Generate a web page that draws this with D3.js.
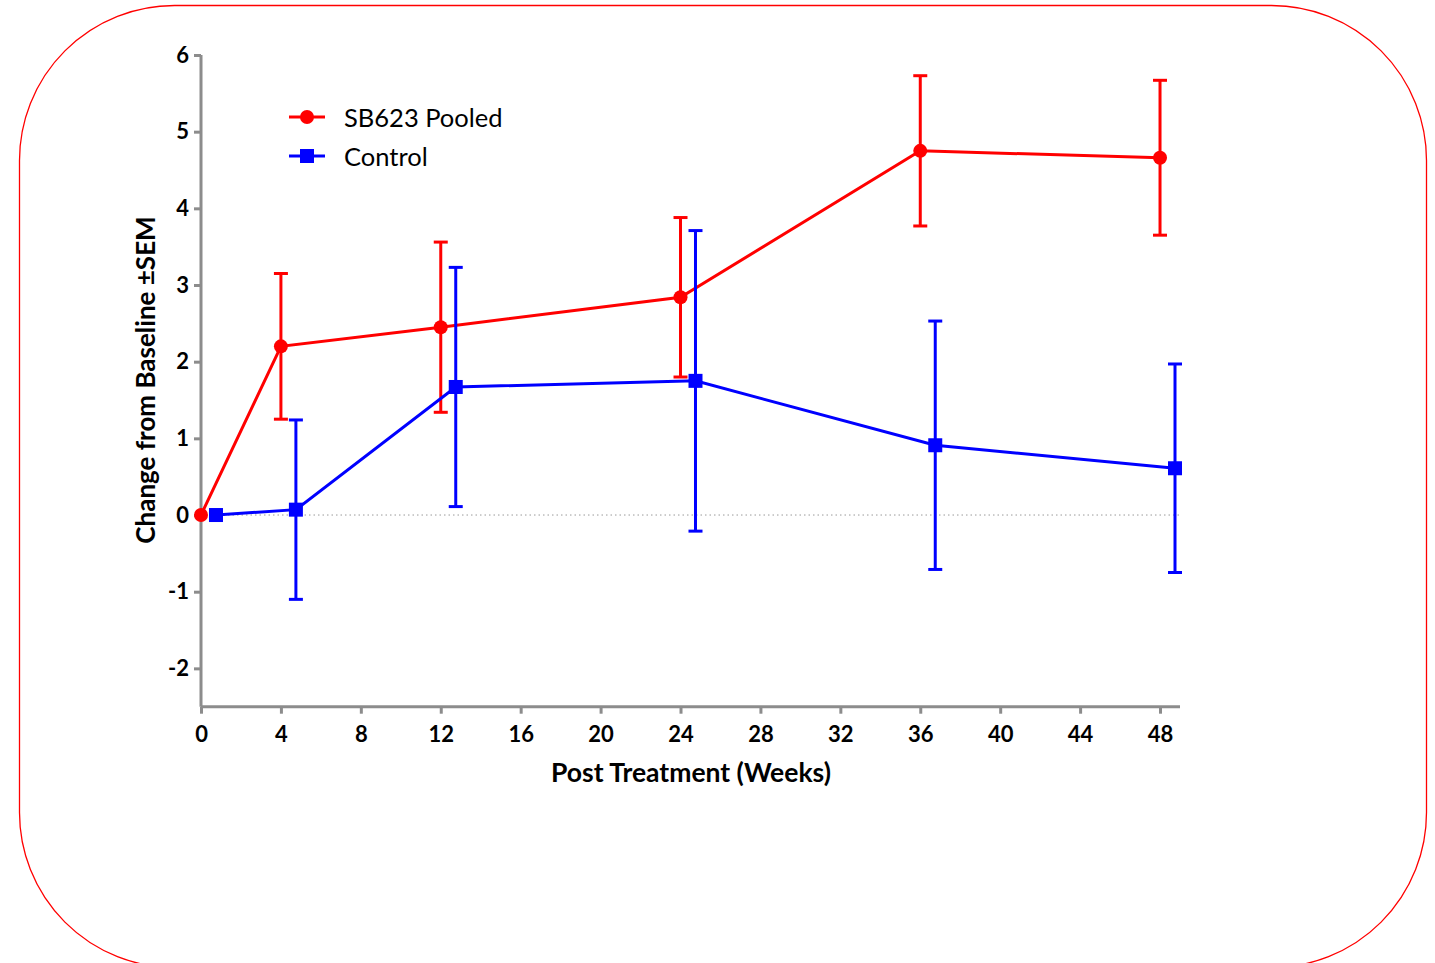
<!DOCTYPE html>
<html>
<head>
<meta charset="utf-8">
<script src="https://cdn.jsdelivr.net/npm/d3@7"></script>
<style>
  html, body { margin: 0; padding: 0; background: #fff; }
  svg { display: block; }
</style>
</head>
<body>
<svg id="chart" width="1435" height="963"></svg>
<script>
// ---- data ----
const weeks = [0, 4, 12, 24, 36, 48];
const sb623Mean = [0, 2.20, 2.45, 2.84, 4.75, 4.66];
const sb623Sem  = [0, 0.95, 1.11, 1.04, 0.98, 1.01];
const controlMean = [0, 0.07, 1.67, 1.75, 0.91, 0.61];
const controlSem  = [0, 1.17, 1.56, 1.96, 1.62, 1.36];
const xTicks = [0, 4, 8, 12, 16, 20, 24, 28, 32, 36, 40, 44, 48];
const yTicks = [-2, -1, 0, 1, 2, 3, 4, 5, 6];
const seriesNames = ["SB623 Pooled", "Control"];

const series = [
  { name: seriesNames[0], mean: sb623Mean, sem: sb623Sem, color: "#ff0000", shape: "circle", offset: 0 },
  { name: seriesNames[1], mean: controlMean, sem: controlSem, color: "#0000ff", shape: "square", offset: 0.75 }
];

const svg = d3.select("#chart");
const font = "Lato, 'Open Sans', sans-serif";

// rounded border
svg.append("rect")
  .attr("x", 19.5).attr("y", 5.5).attr("width", 1407).attr("height", 962)
  .attr("rx", 155).attr("ry", 155)
  .attr("fill", "none").attr("stroke", "#ff0000").attr("stroke-width", 1.3);

const x = d3.scaleLinear().domain([0, 49]).range([201, 1180]);
const y = d3.scaleLinear().domain([-2.5, 6]).range([706.7, 55]);

const axisColor = "#8c8c8c";

// zero dotted line
svg.append("line")
  .attr("x1", x(0)).attr("x2", x(49)).attr("y1", y(0)).attr("y2", y(0))
  .attr("stroke", "#999").attr("stroke-width", 1).attr("stroke-dasharray", "1.5,3");

const fmt = d => String(d).replace("\u2212", "-");

// axes
const xAxis = svg.append("g").attr("transform", `translate(0,${y(-2.5)})`)
  .call(d3.axisBottom(x).tickValues(xTicks).tickSize(7).tickPadding(13).tickFormat(fmt));
const yAxis = svg.append("g").attr("transform", `translate(${x(0)},0)`)
  .call(d3.axisLeft(y).tickValues(yTicks).tickSize(7).tickPadding(5).tickFormat(fmt));
[xAxis, yAxis].forEach(g => {
  g.select(".domain").attr("stroke", axisColor).attr("stroke-width", 3);
  g.selectAll(".tick line").attr("stroke", axisColor).attr("stroke-width", 3);
  g.selectAll(".tick text").attr("fill", "#000").style("font-family", font)
    .style("font-size", "22px").style("font-weight", "bold");
});
xAxis.select(".domain").attr("d", `M${x(0)},0H${x(49)}`);
yAxis.select(".domain").attr("d", `M0,${y(6)}V${y(-2.5)}`);

// axis titles
svg.append("text")
  .attr("x", 691).attr("y", 782)
  .attr("text-anchor", "middle")
  .style("font-family", font).style("font-size", "26.5px").style("font-weight", "bold")
  .text("Post Treatment (Weeks)");
svg.append("text")
  .attr("transform", "translate(155,380) rotate(-90)")
  .attr("text-anchor", "middle")
  .style("font-family", font).style("font-size", "26px").style("font-weight", "bold")
  .text("Change from Baseline \u00B1SEM");

// series
series.forEach(s => {
  const pts = weeks.map((w, i) => ({ x: w + s.offset, m: s.mean[i], e: s.sem[i] }));
  const g = svg.append("g");
  // error bars
  pts.filter(p => p.e > 0).forEach(p => {
    g.append("line").attr("x1", x(p.x)).attr("x2", x(p.x))
      .attr("y1", y(p.m - p.e)).attr("y2", y(p.m + p.e))
      .attr("stroke", s.color).attr("stroke-width", 3);
    [p.m - p.e, p.m + p.e].forEach(v => {
      g.append("line").attr("x1", x(p.x) - 7).attr("x2", x(p.x) + 7)
        .attr("y1", y(v)).attr("y2", y(v))
        .attr("stroke", s.color).attr("stroke-width", 3);
    });
  });
  // line
  g.append("path").datum(pts)
    .attr("d", d3.line().x(p => x(p.x)).y(p => y(p.m)))
    .attr("fill", "none").attr("stroke", s.color).attr("stroke-width", 3);
  // markers
  pts.forEach(p => {
    if (s.shape === "circle") {
      g.append("circle").attr("cx", x(p.x)).attr("cy", y(p.m)).attr("r", 7).attr("fill", s.color);
    } else {
      g.append("rect").attr("x", x(p.x) - 7).attr("y", y(p.m) - 7).attr("width", 14).attr("height", 14).attr("fill", s.color);
    }
  });
});

// legend
series.forEach((s, i) => {
  const ly = 117 + i * 39;
  const lg = svg.append("g");
  lg.append("line").attr("x1", 289).attr("x2", 325).attr("y1", ly).attr("y2", ly)
    .attr("stroke", s.color).attr("stroke-width", 3);
  if (s.shape === "circle") {
    lg.append("circle").attr("cx", 307).attr("cy", ly).attr("r", 7).attr("fill", s.color);
  } else {
    lg.append("rect").attr("x", 300).attr("y", ly - 7).attr("width", 14).attr("height", 14).attr("fill", s.color);
  }
  lg.append("text").attr("x", 344).attr("y", ly + 10)
    .style("font-family", font).style("font-size", "25.5px")
    .text(s.name);
});
</script>
</body>
</html>
